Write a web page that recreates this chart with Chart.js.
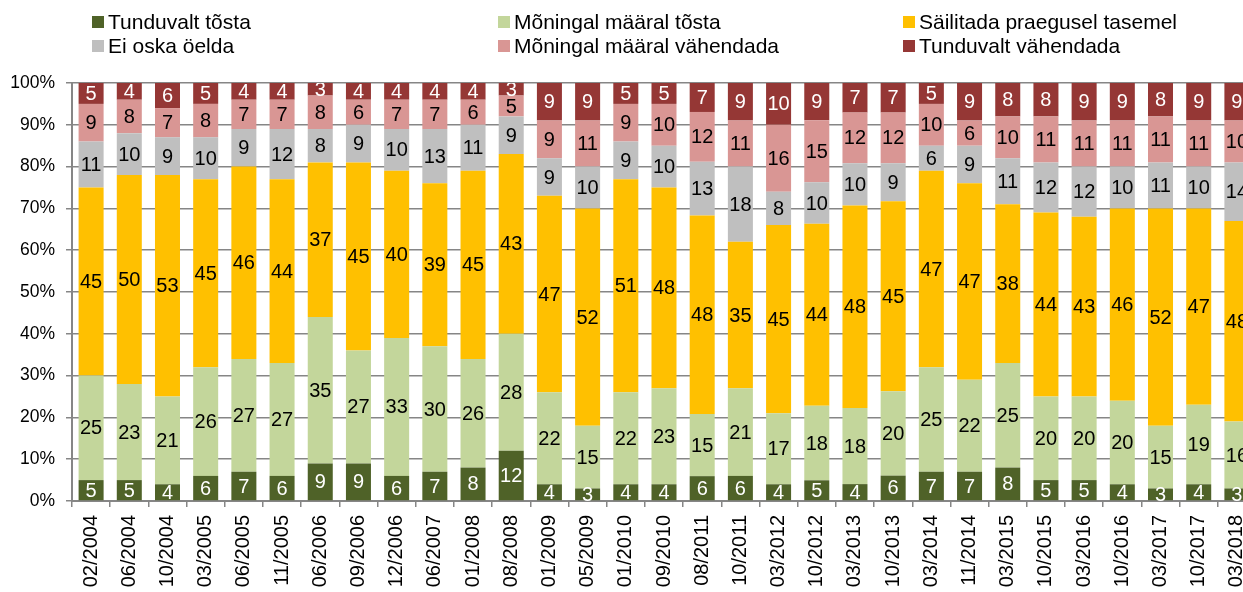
<!DOCTYPE html>
<html>
<head>
<meta charset="utf-8">
<script src="https://cdn.jsdelivr.net/npm/chart.js@4.4.0/dist/chart.umd.min.js"></script>
<style>
  body { margin: 0; overflow: hidden; background: #fff; font-family: "Liberation Sans", Arial, sans-serif; }
  #wrap { position: relative; width: 1270px; height: 592px; }
  #legend { position: absolute; left: 0; top: 0; width: 1243px; height: 60px; }
  .item { position: absolute; font-size: 21px; color: #000; white-space: nowrap; line-height: 24px; }
  .item span.box { display: inline-block; width: 12px; height: 12px; margin-right: 4px; vertical-align: 1px; }
</style>
</head>
<body>
<div id="wrap">
  <canvas id="chart" width="1270" height="592"></canvas>
  <div id="legend"></div>
</div>
<script>
var periods = ["02/2004", "06/2004", "10/2004", "03/2005", "06/2005", "11/2005", "06/2006", "09/2006",
  "12/2006", "06/2007", "01/2008", "08/2008", "01/2009", "05/2009", "01/2010", "09/2010", "08/2011",
  "10/2011", "03/2012", "10/2012", "03/2013", "10/2013", "03/2014", "11/2014", "03/2015", "10/2015",
  "03/2016", "10/2016", "03/2017", "10/2017", "03/2018"];

var tunduvaltTosta = [5, 5, 4, 6, 7, 6, 9, 9, 6, 7, 8, 12, 4, 3, 4, 4, 6, 6, 4, 5, 4, 6, 7, 7, 8, 5, 5, 4, 3, 4, 3];
var moningalTosta = [25, 23, 21, 26, 27, 27, 35, 27, 33, 30, 26, 28, 22, 15, 22, 23, 15, 21, 17, 18, 18, 20, 25, 22, 25, 20, 20, 20, 15, 19, 16];
var sailitada = [45, 50, 53, 45, 46, 44, 37, 45, 40, 39, 45, 43, 47, 52, 51, 48, 48, 35, 45, 44, 48, 45, 47, 47, 38, 44, 43, 46, 52, 47, 48];
var eiOska = [11, 10, 9, 10, 9, 12, 8, 9, 10, 13, 11, 9, 9, 10, 9, 10, 13, 18, 8, 10, 10, 9, 6, 9, 11, 12, 12, 10, 11, 10, 14];
var moningalVahendada = [9, 8, 7, 8, 7, 7, 8, 6, 7, 7, 6, 5, 9, 11, 9, 10, 12, 11, 16, 15, 12, 12, 10, 6, 10, 11, 11, 11, 11, 11, 10];
var tunduvaltVahendada = [5, 4, 6, 5, 4, 4, 3, 4, 4, 4, 4, 3, 9, 9, 5, 5, 7, 9, 10, 9, 7, 7, 5, 9, 8, 8, 9, 9, 8, 9, 9];

var yTicks = ["0%", "10%", "20%", "30%", "40%", "50%", "60%", "70%", "80%", "90%", "100%"];

var series = [
  { label: "Tunduvalt tõsta", values: tunduvaltTosta, color: "#4F6228", text: "#fff" },
  { label: "Mõningal määral tõsta", values: moningalTosta, color: "#C3D69B", text: "#000" },
  { label: "Säilitada praegusel tasemel", values: sailitada, color: "#FFC000", text: "#000" },
  { label: "Ei oska öelda", values: eiOska, color: "#BFBFBF", text: "#000" },
  { label: "Mõningal määral vähendada", values: moningalVahendada, color: "#D99694", text: "#000" },
  { label: "Tunduvalt vähendada", values: tunduvaltVahendada, color: "#953735", text: "#fff" }
];

// 100% stacked: each bar scaled to its own total
var totals = periods.map(function (p, i) {
  return series.reduce(function (s, d) { return s + d.values[i]; }, 0);
});

var datasets = series.map(function (s) {
  return {
    label: s.label,
    data: s.values.map(function (v, i) { return v / totals[i] * 100; }),
    raw: s.values,
    textColor: s.text,
    backgroundColor: s.color,
    borderColor: "#fff",
    borderWidth: 0,
    barPercentage: 0.655,
    categoryPercentage: 1
  };
});

// legend laid out like the original, 3 columns x 2 rows
var legendPos = [[92, 10], [498, 10], [903, 10], [92, 34], [498, 34], [903, 34]];
var legendEl = document.getElementById("legend");
series.forEach(function (s, i) {
  var d = document.createElement("div");
  d.className = "item";
  d.style.left = legendPos[i][0] + "px";
  d.style.top = legendPos[i][1] + "px";
  d.innerHTML = '<span class="box" style="background:' + s.color + '"></span>' + s.label;
  legendEl.appendChild(d);
});

var valueLabels = {
  id: "valueLabels",
  afterDatasetsDraw: function (chart) {
    var ctx = chart.ctx;
    var area = chart.chartArea;
    ctx.save();
    ctx.beginPath();
    ctx.rect(area.left, area.top, area.right - area.left, area.bottom - area.top);
    ctx.clip();
    ctx.font = '20px "Liberation Sans", Arial, sans-serif';
    ctx.textAlign = "center";
    ctx.textBaseline = "middle";
    chart.data.datasets.forEach(function (ds, di) {
      var meta = chart.getDatasetMeta(di);
      meta.data.forEach(function (bar, i) {
        var p = bar.getProps(["x", "y", "base"], true);
        ctx.fillStyle = ds.textColor;
        ctx.fillText(String(ds.raw[i]), p.x, (p.y + p.base) / 2 + 1);
      });
    });
    ctx.restore();
  }
};

new Chart(document.getElementById("chart"), {
  type: "bar",
  data: { labels: periods, datasets: datasets },
  plugins: [valueLabels],
  options: {
    responsive: false,
    animation: false,
    layout: { padding: { top: 83, left: 0, right: 14, bottom: 0 } },
    plugins: {
      legend: { display: false },
      tooltip: { enabled: false }
    },
    scales: {
      x: {
        stacked: true,
        afterFit: function (scale) { scale.height = 91; },
        grid: {
          offset: true,
          drawOnChartArea: false,
          drawTicks: true,
          tickLength: 6,
          color: "#868686",
          lineWidth: 1.5
        },
        border: { color: "#868686", width: 2 },
        ticks: {
          autoSkip: false,
          maxRotation: 90,
          minRotation: 90,
          padding: 8,
          color: "#000",
          font: { size: 20, family: '"Liberation Sans", Arial, sans-serif' }
        }
      },
      y: {
        stacked: true,
        min: 0,
        max: 100,
        afterFit: function (scale) { scale.width = 72; },
        grid: {
          color: "#868686",
          lineWidth: 1.5,
          drawTicks: true,
          tickLength: 6
        },
        border: { color: "#868686", width: 2 },
        ticks: {
          stepSize: 10,
          padding: 11,
          color: "#000",
          font: { size: 17.5, family: '"Liberation Sans", Arial, sans-serif' },
          callback: function (v) { return yTicks[Math.round(v / 10)]; }
        }
      }
    }
  }
});
</script>
</body>
</html>
